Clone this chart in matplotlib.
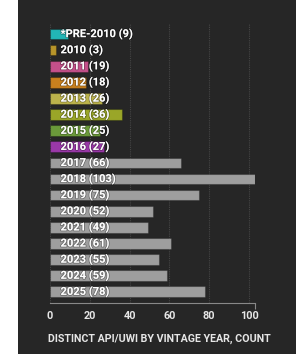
import matplotlib

matplotlib.use("Agg")
import matplotlib.pyplot as plt
import matplotlib.patheffects as pe
from matplotlib.patches import Rectangle

# データ（ヴィンテージ年ごとの API/UWI 件数）
years = ["*PRE-2010", "2010", "2011", "2012", "2013", "2014", "2015", "2016",
         "2017", "2018", "2019", "2020", "2021", "2022", "2023", "2024", "2025"]
counts = [9, 3, 19, 18, 26, 36, 25, 27, 66, 103, 75, 52, 49, 61, 55, 59, 78]
bar_colors = ["#22b6b6", "#b8952a", "#c4508a", "#c8801e", "#bcb34c", "#9aa628",
              "#6b9a3a", "#9a38a8"] + ["#9e9e9e"] * 9
xticks = [0, 20, 40, 60, 80, 100]

BG = "#262626"
plt.rcParams["font.family"] = ["Roboto", "DejaVu Sans"]

fig = plt.figure(figsize=(2.96, 3.54), dpi=100, facecolor=BG)
# 左端の白帯
fig.patches.append(Rectangle((0, 0), 18 / 296, 1, transform=fig.transFigure,
                             facecolor="white", edgecolor="none", zorder=0))

ax = fig.add_axes([50 / 296, 51.3 / 354, 205 / 296, 278.7 / 354])
ax.set_zorder(2)
ax.set_facecolor(BG)

n = len(years)
ypos = list(range(n))
ax.barh(ypos, counts, height=0.66, color=bar_colors, edgecolor="#00000040",
        linewidth=0.8, zorder=2)

for y, name, c in zip(ypos, years, counts):
    ax.text(5.3, y, f"{name} ({c})", ha="left", va="center", color="white",
            fontsize=8, fontweight="bold", zorder=3,
            path_effects=[pe.withStroke(linewidth=1.2, foreground="#00000055")])

ax.set_xlim(0, 103)
ax.set_ylim(n - 0.5 + 0.18, -0.5 - 0.12)

ax.set_xticks(xticks)
ax.set_xticklabels([str(t) for t in xticks], fontsize=7.8, fontweight="bold",
                   color="#e6e6e6")
ax.tick_params(axis="x", length=0, pad=6)
ax.set_xticks([0, 103], minor=True)
ax.tick_params(axis="x", which="minor", length=4, width=0.8, color="#888888")
ax.set_yticks([])

ax.grid(axis="x", linestyle=(0, (1, 1)), color="#454545", linewidth=0.8, zorder=1)
for s in ["top", "right", "left"]:
    ax.spines[s].set_visible(False)
ax.spines["bottom"].set_color("#888888")
ax.spines["bottom"].set_linewidth(0.8)

ax.set_xlabel("DISTINCT API/UWI BY VINTAGE YEAR, COUNT", fontsize=7.7,
              fontweight="bold", color="#e6e6e6")
ax.xaxis.set_label_coords((159.7 - 50) / 205, -(334 - 302.7) / 278.7)

fig.savefig("out.png", dpi=100, facecolor=fig.get_facecolor())
